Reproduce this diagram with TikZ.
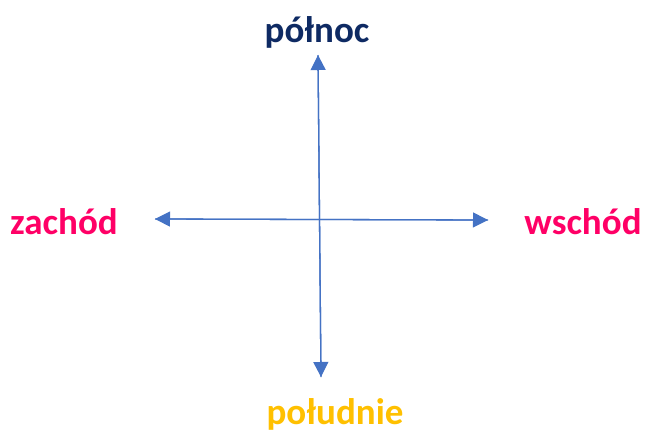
\documentclass[tikz,border=0pt]{standalone}
\usepackage{fontspec}
\setmainfont{Carlito}
\usetikzlibrary{arrows.meta}
\definecolor{navy}{HTML}{0E2A63}
\definecolor{pinkc}{HTML}{FF0066}
\definecolor{yell}{HTML}{FFC000}
\definecolor{arrb}{HTML}{4472C4}
\tikzset{
  lbl/.style={font=\fontsize{37}{40}\selectfont\bfseries, inner sep=0pt, anchor=base},
  dirarrow/.style={draw=arrb, line width=1.3pt, -{Triangle[length=15pt,width=15pt]}}
}
\begin{document}
\begin{tikzpicture}[x=1pt,y=-1pt]
\useasboundingbox (0,0) rectangle (646,432);
\node[lbl, text=navy] (n) at (317,42) {północ};
\node[lbl, text=pinkc] (w) at (64,234) {zachód};
\node[lbl, text=pinkc] (e) at (583,234) {wschód};
\node[lbl, text=yell] (s) at (335,424) {południe};
\coordinate (nt) at (318,55);
\coordinate (nb) at (321,377);
\coordinate (wl) at (155,219);
\coordinate (er) at (488,220);
\draw[dirarrow] (nb) -- (nt);
\draw[dirarrow] (nt) -- (nb);
\draw[dirarrow] (er) -- (wl);
\draw[dirarrow] (wl) -- (er);
\end{tikzpicture}
\end{document}
